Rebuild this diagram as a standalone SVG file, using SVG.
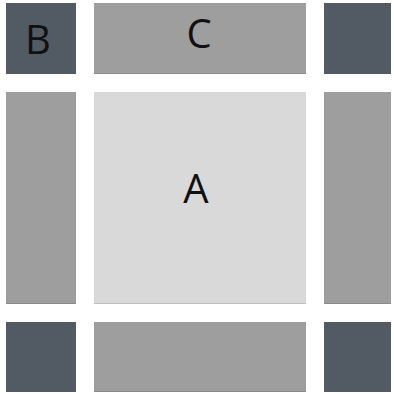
<svg xmlns="http://www.w3.org/2000/svg" width="394" height="394" viewBox="0 0 394 394">
<style>
.dark{fill:#525b64}
.mid{fill:#9e9e9e}
.light{fill:#d9d9d9}
.sh{fill:#000000;fill-opacity:0.12}
.lbl{font-family:"Open Sans","Noto Sans",sans-serif;font-size:40px;fill:#111;text-anchor:middle}
</style>
<rect width="394" height="394" fill="#ffffff"/>
<g id="B"><rect class="dark" x="6" y="3" width="70" height="71"/><text class="lbl" x="38" y="54">B</text></g>
<g id="C"><rect class="mid" x="94" y="3" width="212" height="71"/><rect class="sh" x="94" y="73" width="212" height="1"/><text class="lbl" x="199" y="48">C</text></g>
<g id="TR"><rect class="dark" x="324" y="3" width="67" height="71"/></g>
<g id="L"><rect class="mid" x="6" y="92" width="70" height="212"/><rect class="sh" x="6" y="303" width="70" height="1"/></g>
<g id="A"><rect class="light" x="94" y="92" width="212" height="212"/><rect class="sh" x="94" y="303" width="212" height="1"/><text class="lbl" x="196" y="203">A</text></g>
<g id="R"><rect class="mid" x="324" y="92" width="67" height="212"/><rect class="sh" x="324" y="303" width="67" height="1"/></g>
<g id="BL"><rect class="dark" x="6" y="322" width="70" height="70"/></g>
<g id="BM"><rect class="mid" x="94" y="322" width="212" height="70"/><rect class="sh" x="94" y="391" width="212" height="1"/></g>
<g id="BR"><rect class="dark" x="324" y="322" width="67" height="70"/></g>
</svg>
